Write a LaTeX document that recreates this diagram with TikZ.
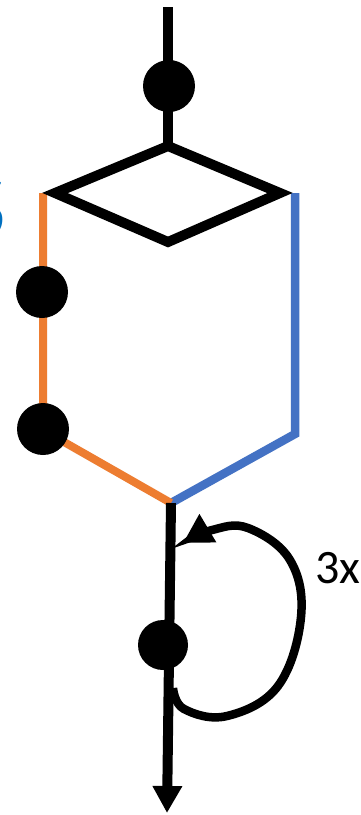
\documentclass[tikz,border=0pt]{standalone}
\usepackage{fontspec}
\setmainfont{Carlito}
\usetikzlibrary{arrows.meta}
\definecolor{lblue}{HTML}{4472C4}
\definecolor{lorange}{HTML}{ED7D31}
\definecolor{tblue}{HTML}{0070C0}
\begin{document}
\begin{tikzpicture}[x=1pt,y=-1pt,
  edge/.style={line width=10pt,draw=black},
  bedge/.style={line width=8.5pt,draw=lblue},
  oedge/.style={line width=8pt,draw=lorange},
  dot/.style={circle,fill=black,inner sep=0pt,minimum size=52pt},
  tip/.style={-{Triangle[length=27pt,width=28pt]}}]
\clip (0,0) rectangle (360,815);
\fill[white] (0,0) rectangle (360,815);
% coordinates
\coordinate (top) at (168,7);
\coordinate (dtop) at (168,146);
\coordinate (dright) at (280,193);
\coordinate (dbot) at (168,242);
\coordinate (dleft) at (55,193);
\coordinate (bedgetop) at (295,193);
\coordinate (oedgetop) at (43,193);
\coordinate (bl) at (295,434);
\coordinate (ol) at (43,430);
\coordinate (merge) at (171,503);
\coordinate (bottom) at (167,813);
% lines
\draw[edge] (top) -- (dtop);
\draw[bedge,line join=miter] (bedgetop) -- (bl) -- (merge);
\draw[oedge,line join=miter] (oedgetop) -- (ol) -- (merge);
\draw[edge,line join=miter] (dtop) -- (dright) -- (dbot) -- (dleft) -- cycle;
\draw[edge,tip] (merge) -- (bottom);
% loop
\draw[edge,line width=8.5pt,-{Triangle[length=29pt,width=31pt]}]
  plot[smooth,tension=0.65] coordinates {(173,688) (184,709) (227,716) (278,686) (301,617) (290,560) (248,528) (212,530) (183,543)};
% dots
\node[dot] (d1) at (169,86) {};
\node[dot] (d2) at (42,292) {};
\node[dot] (d3) at (43,429) {};
\node[dot,minimum size=50pt] (d4) at (163,645) {};
% labels
\node[anchor=base west,inner sep=0pt,font=\fontsize{48}{48}\selectfont] (lbl) at (315,583) {3x};
\node[anchor=base east,inner sep=0pt,text=tblue,font=\fontsize{95}{95}\selectfont] (blbl) at (6,238) {S};
\end{tikzpicture}
\end{document}
